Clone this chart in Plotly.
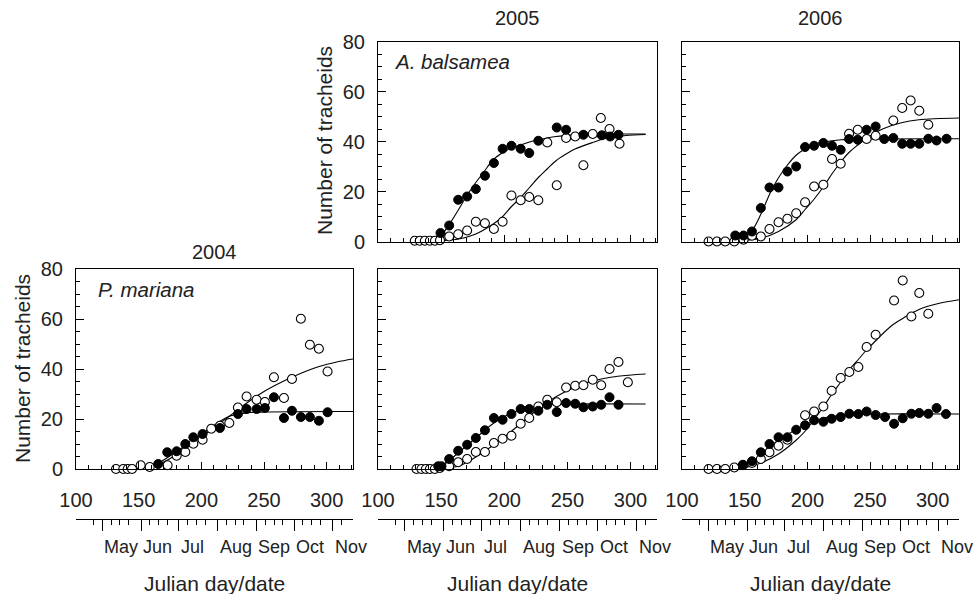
import plotly.graph_objects as go

# ---------------- data ----------------
# A. balsamea 2005 (top middle)
ab05_f_day = [149.5, 156.4, 163.5, 170.6, 177.5, 184.7, 191.8, 198.7, 205.7, 213, 219.8, 227, 241.6, 249, 262.7, 277.3, 283.9, 290.5]
ab05_f_val = [3.4, 6.4, 16.7, 18, 21, 26.3, 31.4, 37.1, 38.3, 37.1, 35.4, 40.3, 45.6, 44.7, 42.7, 42.5, 42, 42.7]
ab05_o_day = [129.1, 133.1, 137.1, 141.1, 145.1, 149.1, 156.4, 163.5, 170.6, 177.5, 184.7, 191.8, 198.7, 205.7, 213, 219.8, 227, 234.1, 241.6, 249, 256.2, 262.7, 270.1, 276.5, 283.4, 291.3]
ab05_o_val = [0.3, 0.3, 0.3, 0.3, 0.3, 0.5, 2, 2.9, 4.4, 7.9, 7.3, 5, 7.9, 18.4, 16.5, 17.8, 16.5, 39.6, 22.5, 41.4, 42, 30.5, 43, 49.4, 45, 39.1]
ab05_fc_day = [145, 150, 156, 163, 170, 177, 184, 191, 198, 205, 213, 220, 227, 241, 262, 284, 312]
ab05_fc_val = [0.8, 2.5, 6.4, 12.1, 18, 23.3, 27.9, 32.6, 35.3, 37.3, 38.6, 39.8, 40.7, 42, 42.7, 43, 43]
ab05_oc_day = [145, 150, 163, 177, 191, 198, 205, 213, 220, 227, 234, 241, 249, 256, 270, 284, 312]
ab05_oc_val = [0, 0.3, 0.9, 2.9, 6.9, 9.6, 13.6, 17.6, 21.6, 25.6, 29, 32.3, 35, 37, 39.6, 41.7, 42.8]

# A. balsamea 2006 (top right)
ab06_f_day = [142.5, 149.1, 155.8, 162.9, 169.8, 177, 184.1, 191.1, 198.2, 205.4, 212.8, 219.7, 226.6, 233.3, 240.2, 247.3, 254.5, 261.4, 268.6, 275.7, 282.4, 289.3, 296.5, 303.1, 311.1]
ab06_f_val = [2.4, 2.4, 4, 13.4, 21.6, 21.6, 28, 30, 37.8, 38.3, 39.4, 38.3, 36.7, 41, 40.7, 44.7, 46, 41, 41.4, 39.1, 39.1, 39.1, 41.1, 40.4, 41.1]
ab06_o_day = [121.2, 127.9, 134.5, 141.7, 149.1, 155.8, 162.9, 169.8, 177, 184.1, 191.1, 198.2, 205.4, 212.8, 219.7, 226.6, 233.3, 240.2, 247.3, 254.5, 268.6, 275.7, 282.4, 289.3, 296.5]
ab06_o_val = [0, 0, 0, 0, 0.7, 2.3, 2, 5, 7.7, 9.1, 11.3, 15.7, 22, 22.7, 33, 31.1, 43.1, 44.7, 41, 42.3, 48.4, 53.4, 56.4, 52.3, 46.7]
ab06_fc_day = [135, 140, 150, 156, 163, 170, 177, 184, 191, 198, 205, 213, 227, 247, 321]
ab06_fc_val = [0, 0.3, 2, 4.5, 11, 19, 25.5, 30.5, 34.5, 37, 38.8, 39.8, 40.7, 41, 41.1]
ab06_oc_day = [140, 150, 163, 177, 191, 198, 205, 213, 220, 227, 233, 240, 247, 261, 275, 289, 321]
ab06_oc_val = [0, 0.5, 1.3, 4, 8.7, 12.7, 16.7, 22, 27.3, 32, 35.5, 38.5, 41.2, 45.2, 47.5, 48.7, 49.4]

# P. mariana 2004 (bottom left)
pm04_f_day = [165.6, 172.8, 180.3, 187.2, 193.6, 201, 214.8, 229.2, 236.1, 244.1, 250.7, 257.9, 265.9, 272.3, 279.4, 286.6, 293.8, 300.7]
pm04_f_val = [2, 6.7, 7.1, 10, 12.7, 14, 16.4, 22, 24, 24, 24.4, 28.7, 20.4, 23.3, 20.8, 20.8, 19.3, 22.7]
pm04_o_day = [131.9, 137.7, 141.2, 144.7, 151.6, 158.8, 173.1, 180.3, 187.2, 193.6, 201, 207.9, 214.8, 222.3, 229.2, 236.1, 244.1, 250.7, 257.9, 265.9, 272.3, 279.4, 286.6, 293.8, 300.7]
pm04_o_val = [0, 0, 0, 0, 1.5, 0.8, 1.5, 5.3, 6.8, 10.1, 11.7, 16.1, 17.3, 18.4, 24.6, 29, 27.7, 26.8, 36.7, 28.4, 36, 60.1, 49.7, 48.1, 39]
pm04_fc_day = [140, 150, 165, 180, 194, 208, 222, 236, 250, 321]
pm04_fc_val = [0, 0.5, 2.3, 7, 11.7, 16.8, 21, 22.4, 22.8, 23]
pm04_oc_day = [140, 150, 165, 180, 194, 208, 222, 236, 250, 265, 280, 294, 308, 321]
pm04_oc_val = [0, 0.4, 1.7, 5.7, 10.6, 15.7, 21, 26.3, 31, 35, 38.4, 41, 42.8, 44]

# P. mariana 2005 (bottom middle)
pm05_f_day = [147.7, 150.3, 156.4, 163.5, 170.6, 177.5, 184.7, 191.8, 198.7, 205.7, 213, 219.8, 227, 234.1, 241.6, 249, 256.2, 262.7, 270.1, 276.8, 283.4, 290.5]
pm05_f_val = [1.1, 1.1, 4, 7.3, 9.7, 12.4, 15.5, 20.4, 19.7, 22, 24, 24, 23.3, 25.7, 22.8, 26.4, 26.1, 24.7, 25, 25.7, 28.7, 25.7]
pm05_o_day = [130.5, 134.4, 137.9, 141.1, 145, 149, 156.4, 163.5, 170.6, 177.5, 184.7, 191.8, 198.7, 205.7, 213, 219.8, 227, 234.1, 241.6, 249, 256.2, 262.7, 270.1, 276.8, 283.4, 290.5, 297.9]
pm05_o_val = [0, 0, 0, 0, 0, 0.4, 1.1, 2.7, 4, 6.8, 6.8, 10.4, 12.1, 13.3, 18.1, 20.4, 25, 27.7, 26.7, 32.6, 33.3, 33.5, 35.7, 33.5, 40, 42.8, 34.7]
pm05_fc_day = [140, 150, 156, 163.5, 177.5, 191.8, 205.7, 219.8, 234, 249, 312]
pm05_fc_val = [0.3, 1.5, 3.3, 6.4, 12.4, 18.4, 22.4, 24.7, 25.7, 26, 26]
pm05_oc_day = [140, 150, 163.5, 177.5, 191.8, 205.7, 219.8, 234, 249, 262.7, 276.8, 290, 312]
pm05_oc_val = [0, 0.3, 1.1, 4.8, 9.7, 15.1, 21.1, 26.7, 31.1, 34.1, 36, 37.1, 38]

# P. mariana 2006 (bottom right)
pm06_f_day = [148.6, 155.8, 162.9, 169.8, 177, 184.1, 191.1, 198.2, 205.4, 212.8, 219.4, 226.6, 233.5, 240.7, 247.3, 254.5, 262, 269.2, 276.1, 283, 289.3, 296.5, 303.1, 310.6]
pm06_f_val = [1.7, 3.1, 6.7, 10, 12.7, 12.7, 15.7, 17.5, 19.5, 18.9, 20.1, 20.8, 22.1, 22, 23, 21.6, 20.8, 18.1, 20.3, 22.1, 22.4, 22.1, 24.4, 22]
pm06_o_day = [121.2, 127.9, 134.5, 141.7, 148.6, 155.8, 162.9, 169.8, 177, 184.1, 198.2, 205.4, 212.8, 219.4, 226.6, 233.5, 240.7, 247.3, 254.5, 262, 269.2, 276.1, 283, 289.3, 296.5]
pm06_o_val = [0, 0, 0, 0.6, 1.5, 2.4, 4, 6.7, 9.3, 11.7, 21.5, 23, 25, 31.3, 36.4, 38.8, 40.8, 48.8, 53.7, 80.4, 67.4, 75.4, 61, 70.4, 62.1]
pm06_fc_day = [135, 140, 156, 170, 184, 198, 213, 233, 254, 321]
pm06_fc_val = [0, 0.3, 2.4, 9, 13.7, 17.7, 20.4, 21.7, 22, 22]
pm06_oc_day = [140, 150, 163, 177, 191, 198, 205, 213, 219, 227, 234, 241, 247, 255, 262, 269, 277, 290, 303, 321]
pm06_oc_val = [0, 0.5, 2.4, 6, 11.5, 15, 19.5, 25, 29.5, 35, 40, 44, 47.5, 51.5, 55, 58, 60.5, 64, 66, 67.7]

# date axis (Julian day of month starts) and labels
month_days = [121, 152, 182, 213, 244, 274, 305]
month_names = ["May", "Jun", "Jul", "Aug", "Sep", "Oct", "Nov"]
week_days = [114] + [d + k for d in month_days[:-1] for k in (7, 14, 21)] + [312]

x_ticks = [100, 150, 200, 250, 300]
y_ticks = [0, 20, 40, 60, 80]

FONT = "Liberation Sans, Arial, sans-serif"
W, H = 974, 594

fig = go.Figure()

panels = [
    ("x", "y", pm04_f_day, pm04_f_val, pm04_o_day, pm04_o_val, pm04_fc_day, pm04_fc_val, pm04_oc_day, pm04_oc_val),
    ("x2", "y2", pm05_f_day, pm05_f_val, pm05_o_day, pm05_o_val, pm05_fc_day, pm05_fc_val, pm05_oc_day, pm05_oc_val),
    ("x3", "y3", pm06_f_day, pm06_f_val, pm06_o_day, pm06_o_val, pm06_fc_day, pm06_fc_val, pm06_oc_day, pm06_oc_val),
    ("x4", "y4", ab05_f_day, ab05_f_val, ab05_o_day, ab05_o_val, ab05_fc_day, ab05_fc_val, ab05_oc_day, ab05_oc_val),
    ("x5", "y5", ab06_f_day, ab06_f_val, ab06_o_day, ab06_o_val, ab06_fc_day, ab06_fc_val, ab06_oc_day, ab06_oc_val),
]

for xa, ya, fd, fv, od, ov, fcd, fcv, ocd, ocv in panels:
    for cd, cv in ((fcd, fcv), (ocd, ocv)):
        fig.add_trace(go.Scatter(x=cd, y=cv, mode="lines", xaxis=xa, yaxis=ya,
                                 line=dict(color="black", width=1.1, shape="spline", smoothing=1.0),
                                 showlegend=False, hoverinfo="skip", cliponaxis=False))
    fig.add_trace(go.Scatter(x=od, y=ov, mode="markers", xaxis=xa, yaxis=ya,
                             marker=dict(symbol="circle", size=9, color="white",
                                         line=dict(color="black", width=1.1)),
                             showlegend=False, cliponaxis=False))
    fig.add_trace(go.Scatter(x=fd, y=fv, mode="markers", xaxis=xa, yaxis=ya,
                             marker=dict(symbol="circle", size=9, color="black",
                                         line=dict(color="black", width=1)),
                             showlegend=False, cliponaxis=False))

# empty traces to create the date axes
for xa, base in (("x6", "y"), ("x7", "y2"), ("x8", "y3")):
    fig.add_trace(go.Scatter(x=[None], y=[None], xaxis=xa, yaxis=base, mode="markers",
                             showlegend=False, hoverinfo="skip"))

xdom = [[76 / W, 353 / W], [378 / W, 657 / W], [682 / W, 959 / W]]
ybot = [(H - 469) / H, (H - 269) / H]
ytop = [(H - 241.5) / H, (H - 41.5) / H]

def xaxis_cfg(dom, anchor, labels):
    return dict(domain=dom, anchor=anchor, range=[100, 321], showline=True, mirror=True,
                linecolor="black", linewidth=1, ticks="inside", tickvals=x_ticks, ticklen=7,
                tickcolor="black", tickwidth=1, showgrid=False, zeroline=False, automargin=False,
                showticklabels=labels, ticklabelstandoff=13,
                tickfont=dict(family=FONT, size=20, color="#222"),
                minor=dict(dtick=10, tick0=100, ticks="inside", ticklen=4, tickcolor="black", showgrid=False))

def yaxis_cfg(dom, anchor, labels):
    return dict(domain=dom, anchor=anchor, range=[0, 80], showline=True, mirror=True,
                linecolor="black", linewidth=1, ticks="inside", tickvals=y_ticks, ticklen=8,
                tickcolor="black", tickwidth=1, showgrid=False, zeroline=False, automargin=False,
                showticklabels=labels, ticklabelstandoff=8,
                tickfont=dict(family=FONT, size=20, color="#222"),
                minor=dict(dtick=5, tick0=0, ticks="inside", ticklen=4, tickcolor="black", showgrid=False))

def date_axis_cfg(base):
    return dict(overlaying=base, anchor="free", position=(H - 519) / H, side="bottom",
                range=[100, 321], showline=True, linecolor="black", linewidth=1, automargin=False,
                ticks="outside", tickvals=month_days, ticklen=11, tickcolor="black", tickwidth=1,
                showticklabels=False, showgrid=False, zeroline=False,
                minor=dict(tickmode="array", tickvals=week_days, ticks="outside", ticklen=5,
                           tickcolor="black", showgrid=False))

layout = dict(
    width=W, height=H, margin=dict(l=0, r=0, t=0, b=0, pad=0, autoexpand=False),
    paper_bgcolor="white", plot_bgcolor="white", showlegend=False,
    xaxis=xaxis_cfg(xdom[0], "y", True), yaxis=yaxis_cfg(ybot, "x", True),
    xaxis2=xaxis_cfg(xdom[1], "y2", True), yaxis2=yaxis_cfg(ybot, "x2", False),
    xaxis3=xaxis_cfg(xdom[2], "y3", True), yaxis3=yaxis_cfg(ybot, "x3", False),
    xaxis4=xaxis_cfg(xdom[1], "y4", False), yaxis4=yaxis_cfg(ytop, "x4", True),
    xaxis5=xaxis_cfg(xdom[2], "y5", False), yaxis5=yaxis_cfg(ytop, "x5", False),
    xaxis6=date_axis_cfg("x"), xaxis7=date_axis_cfg("x2"), xaxis8=date_axis_cfg("x3"),
)
fig.update_layout(**layout)

ann = []
def txt(text, x, y, size=20, xanchor="center", angle=0, xref="paper", italic=False):
    ann.append(dict(text=text, x=x, y=y, xref=xref, yref="paper", showarrow=False,
                    xanchor=xanchor, yanchor="middle", textangle=angle,
                    font=dict(family=FONT, size=size, color="#222",
                              style="italic" if italic else "normal")))

txt("2005", (378 + 657) / 2 / W, 1 - 18 / H)
txt("2006", (682 + 959) / 2 / W, 1 - 18 / H)
txt("2004", (76 + 353) / 2 / W, 1 - 252 / H)
txt("A. balsamea", 392 / W, 1 - 62 / H, size=20.5, xanchor="left", italic=True)
txt("P. mariana", 96 / W, 1 - 289 / H, size=20.5, xanchor="left", italic=True)
txt("Number of tracheids", 325 / W, 1 - 141 / H, size=21, angle=-90)
txt("Number of tracheids", 22 / W, 1 - 369 / H, size=21, angle=-90)
for (x0, x1), dax in zip(xdom, ("x6", "x7", "x8")):
    txt("Julian day/date", (x0 + x1) / 2, 1 - 583 / H, size=21)
    for d, m in zip(month_days, month_names):
        txt(m, d, 1 - 547 / H, size=18, xanchor="left", xref=dax)

fig.update_layout(annotations=ann)
fig.write_html("out.html")
